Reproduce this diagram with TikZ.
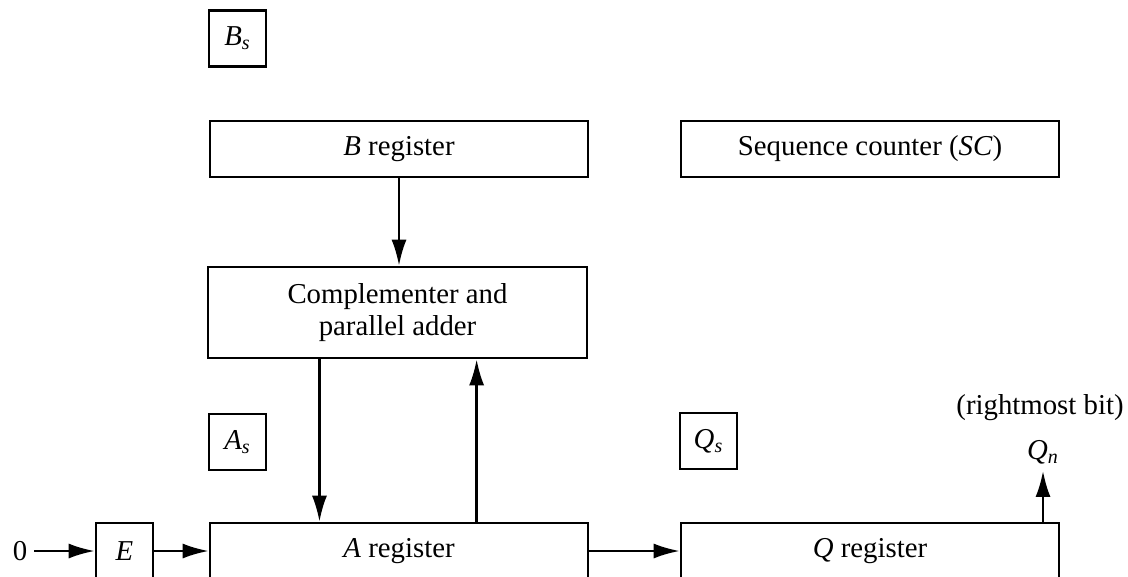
\documentclass[tikz,border=0pt]{standalone}
\usepackage{fontspec}
\setmainfont{Liberation Serif}
\usetikzlibrary{arrows.meta,calc}
\newcommand{\regsub}[2]{\textit{#1}\textsubscript{\textit{#2}}}

\begin{document}
\begin{tikzpicture}[x=0.5pt,y=-0.5pt,
  font=\fontsize{14.4}{16}\selectfont,
  box/.style={draw,line width=1.3pt,inner sep=0pt,align=center},
  reg/.style={box,minimum width=189pt,minimum height=28pt},
  flag/.style={box,minimum width=28.5pt,minimum height=28pt},
  wire/.style={line width=1.2pt,-{Latex[length=13pt,width=7.5pt]}}]

\useasboundingbox (0,0) rectangle (1128,577);
\clip (0,0) rectangle (1128,577);

\node[flag] (bs) at (237.5,38.5) {\regsub{B}{s}};
\node[reg] (breg) at (399,149) {\textit{B} register};
\node[reg] (sc) at (870,149) {Sequence counter (\textit{SC})};
\node[reg,minimum width=189.5pt,minimum height=45.5pt] (adder) at (397.5,312.5) {Complementer and\\parallel adder};

\node[flag] (as) at (237.5,442) {\regsub{A}{s}};
\node[flag] (qs) at (708.5,441) {\regsub{Q}{s}};

\node (zero) at (20,551) {0};
\node[flag] (e) at (124.5,551) {\textit{E}};
\node[reg] (areg) at (399,551) {\textit{A} register};
\node[reg] (qreg) at (870,551) {\textit{Q} register};

\node (rbit) at (1040,408) {(rightmost bit)};
\node (qn) at (1043,452) {\regsub{Q}{n}};

\coordinate (dn) at ($(adder.south west)!0.2955!(adder.south east)$);
\coordinate (up) at ($(areg.north west)!0.704!(areg.north east)$);

\draw[wire] (breg.south) -- (breg.south |- adder.north);
\draw[wire] (dn) -- (dn |- areg.north);
\draw[wire] (up) -- (up |- adder.south);
\draw[wire] (zero) -- (e);
\draw[wire] (e) -- (areg);
\draw[wire] (areg) -- (qreg);
\draw[wire] (qreg.north -| qn) -- (qn);

\end{tikzpicture}
\end{document}
